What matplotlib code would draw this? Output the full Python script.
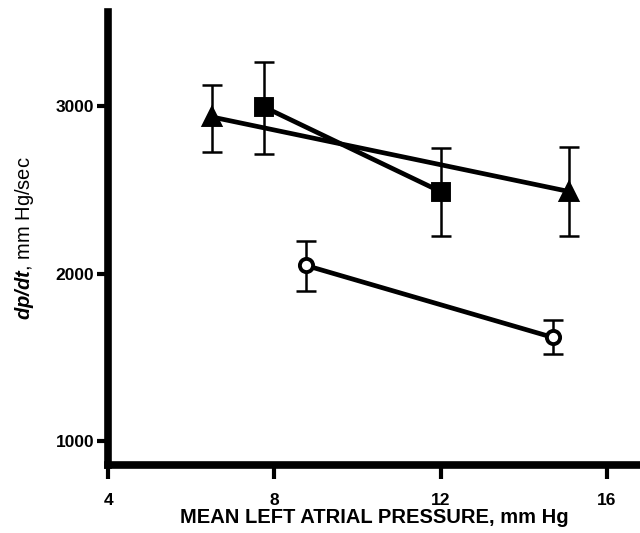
import numpy as np
import matplotlib
matplotlib.use("Agg")
from matplotlib import pyplot as plt

plt.rcParams['font.family'] = ['Liberation Sans', 'DejaVu Sans']
plt.rcParams['mathtext.fontset'] = 'custom'
plt.rcParams['mathtext.rm'] = 'Liberation Sans'
plt.rcParams['mathtext.bfit'] = 'Liberation Sans:italic:bold'

# triangles
tri_x = [6.5, 15.1]
tri_y = [2935, 2490]
tri_hi = [3125, 2756]
tri_lo = [2726, 2226]

# squares
sq_x = [7.75, 12.0]
sq_y = [2995, 2490]
sq_hi = [3262, 2750]
sq_lo = [2714, 2226]

# open circles
ci_x = [8.75, 14.7]
ci_y = [2050, 1620]
ci_hi = [2196, 1726]
ci_lo = [1899, 1518]

x_ticks = [4, 8, 12, 16]
y_ticks = [1000, 2000, 3000]

fig = plt.figure(figsize=(6.4, 5.33), dpi=100)
ax = fig.add_axes([0.169, 0.128, 0.831, 0.849])

def series(x, y, hi, lo, marker, ms, fc):
    y = np.array(y)
    err = [y - np.array(lo), np.array(hi) - y]
    ax.errorbar(x, y, yerr=err, fmt='none', ecolor='black', elinewidth=1.8,
                capsize=7, capthick=1.8, zorder=2)
    ax.plot(x, y, color='black', lw=3.4, marker=marker, ms=ms,
            mfc=fc, mec='black', mew=2.8, zorder=3)

series(tri_x, tri_y, tri_hi, tri_lo, '^', 12, 'black')
series(sq_x, sq_y, sq_hi, sq_lo, 's', 12, 'black')
series(ci_x, ci_y, ci_hi, ci_lo, 'o', 9.5, 'white')

ax.set_xlim(4, 16.8)
ax.set_ylim(860, 3560)
ax.set_xticks(x_ticks)
ax.set_yticks(y_ticks)

for s in ['top', 'right']:
    ax.spines[s].set_visible(False)
for s in ['left', 'bottom']:
    ax.spines[s].set_linewidth(5.5)
ax.tick_params(axis='y', direction='out', length=8, width=3, pad=2,
               labelsize=12.5)
ax.tick_params(axis='x', direction='out', length=10, width=3, pad=10,
               labelsize=12.5)
for lab in ax.get_xticklabels() + ax.get_yticklabels():
    lab.set_fontweight('bold')

ax.set_xlabel('MEAN LEFT ATRIAL PRESSURE, mm Hg', fontsize=14.5,
              fontweight='semibold', labelpad=0)
ax.set_ylabel(r'$\mathbfit{dp/dt}$, mm Hg/sec', fontsize=14.5, labelpad=14)

fig.savefig('out.png', dpi=100)
